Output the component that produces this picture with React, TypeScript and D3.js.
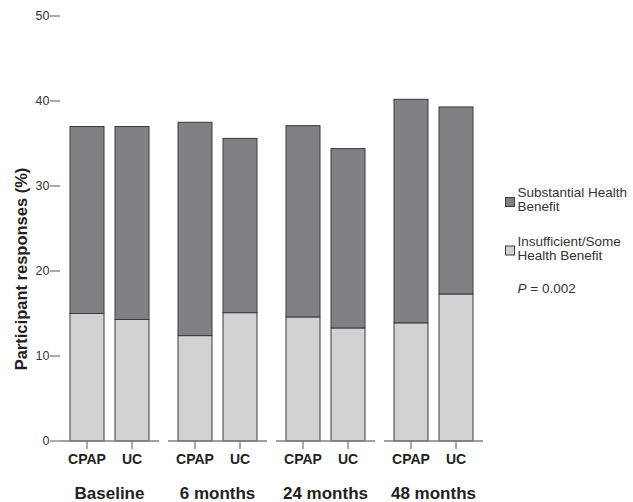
import React from "react";
import * as d3 from "d3";

const groups = ["Baseline", "6 months", "24 months", "48 months"];
const arms = ["CPAP", "UC"];
// Insufficient/Some Health Benefit (lower segment), per group: [CPAP, UC]
const insufficient = [
  [15.0, 14.3],
  [12.4, 15.1],
  [14.6, 13.3],
  [13.9, 17.3],
];
// Total height (insufficient + substantial), per group: [CPAP, UC]
const totals = [
  [37.0, 37.0],
  [37.5, 35.6],
  [37.1, 34.4],
  [40.2, 39.3],
];
const yTicks = [0, 10, 20, 30, 40, 50];
const legendLabels = [
  ["Substantial Health", "Benefit"],
  ["Insufficient/Some", "Health Benefit"],
];

const W = 633;
const H = 502;
const DARK = "#808184";
const LIGHT = "#d1d2d4";
const STROKE = "#3a3a3a";
const FONT = "'Liberation Sans', Arial, Helvetica, sans-serif";

export default function App() {
  const x0 = d3.scaleBand<string>().domain(groups).range([60, 483]).paddingInner(9 / 108).paddingOuter(0);
  const x1 = d3
    .scaleBand<string>()
    .domain(arms)
    .range([0, x0.bandwidth()])
    .paddingInner(11 / 45)
    .paddingOuter(10 / 45);
  const y = d3.scaleLinear().domain([0, 50]).range([441, 16]);

  return (
    <svg
      width={W}
      height={H}
      style={{ position: "absolute", left: 0, top: 0, background: "#fff" }}
      fontFamily={FONT}
    >
      {/* y ticks */}
      {yTicks.map((t) => (
        <g key={t}>
          <line x1={50} x2={60} y1={y(t)} y2={y(t)} stroke="#555" strokeWidth={1} />
          <text x={49.5} y={y(t)} dy="0.35em" textAnchor="end" fontSize={12.5} fill="#333">
            {t}
          </text>
        </g>
      ))}
      <text
        transform={`translate(26.5,${269}) rotate(-90)`}
        textAnchor="middle"
        fontSize={16.5}
        fontWeight="bold"
        fill="#231f20"
      >
        Participant responses (%)
      </text>

      {groups.map((g, gi) => {
        const gx = x0(g)!;
        return (
          <g key={g}>
            {arms.map((a, ai) => {
              const bx = gx + x1(a)!;
              const bw = x1.bandwidth();
              const low = insufficient[gi][ai];
              const tot = totals[gi][ai];
              return (
                <g key={a}>
                  <rect x={bx} y={y(low)} width={bw} height={y(0) - y(low)} fill={LIGHT} stroke={STROKE} strokeWidth={1} />
                  <rect x={bx} y={y(tot)} width={bw} height={y(low) - y(tot)} fill={DARK} stroke={STROKE} strokeWidth={1} />
                  <line x1={bx + bw / 2} x2={bx + bw / 2} y1={y(0)} y2={y(0) + 8} stroke="#555" strokeWidth={1} />
                  <text x={bx + bw / 2} y={463.5} textAnchor="middle" fontSize={14} fontWeight="bold" fill="#231f20">
                    {a}
                  </text>
                </g>
              );
            })}
            <line x1={gx} x2={gx + x0.bandwidth()} y1={y(0)} y2={y(0)} stroke="#808080" strokeWidth={1.5} />
            <text x={gx + x0.bandwidth() / 2} y={498.5} textAnchor="middle" fontSize={17} fontWeight="bold" fill="#231f20">
              {g}
            </text>
          </g>
        );
      })}

      {/* legend */}
      {legendLabels.map((lines, i) => {
        const base = i === 0 ? 197 : 245.5;
        return (
          <g key={i}>
            <rect x={505.5} y={base + 0.5} width={9} height={9} fill={i === 0 ? DARK : LIGHT} stroke={STROKE} strokeWidth={1} />
            {lines.map((l, li) => (
              <text key={li} x={517.5} y={base + li * 14} fontSize={13.5} fill="#333">
                {l}
              </text>
            ))}
          </g>
        );
      })}
      <text x={517.5} y={293} fontSize={13.5} fill="#333">
        <tspan fontStyle="italic">P</tspan> = 0.002
      </text>
    </svg>
  );
}
